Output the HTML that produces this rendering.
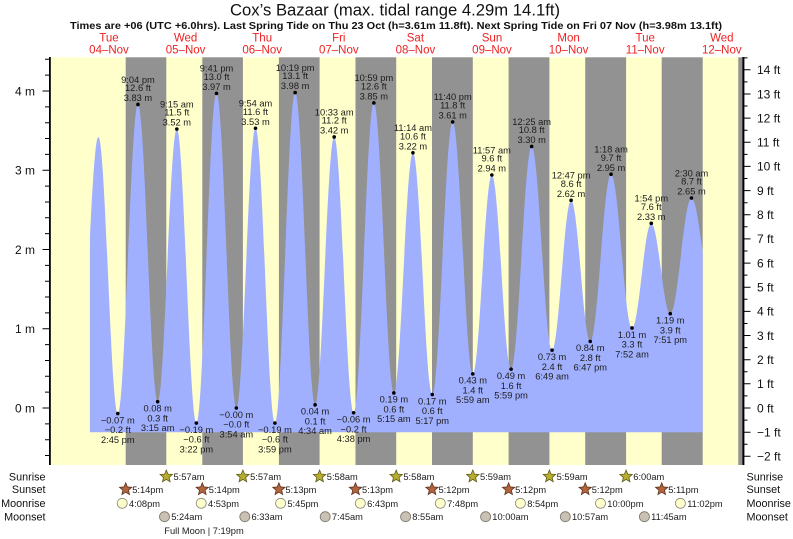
<!DOCTYPE html>
<html><head><meta charset="utf-8"><style>
html,body{margin:0;padding:0;background:#fff;}
svg{display:block;font-family:"Liberation Sans",Arial,sans-serif;}
</style></head><body>
<svg width="793" height="539" viewBox="0 0 793 539" xmlns="http://www.w3.org/2000/svg">
<defs>
<clipPath id="cp"><rect x="89.9" y="0" width="612.8" height="539"/></clipPath>
<path id="st" d="M0,-6.5 L1.70,-2.35 L6.18,-2.01 L2.76,0.90 L3.82,5.26 L0,2.9 L-3.82,5.26 L-2.76,0.90 L-6.18,-2.01 L-1.70,-2.35 Z"/>
</defs>
<rect width="793" height="539" fill="#fff"/>
<!-- title -->
<text x="395" y="15.5" font-size="16.6" text-anchor="middle" fill="#111" textLength="330" lengthAdjust="spacingAndGlyphs">Cox’s Bazaar (max. tidal range 4.29m 14.1ft)</text>
<text x="396" y="29" font-size="10.5" font-weight="bold" text-anchor="middle" fill="#111" textLength="652" lengthAdjust="spacingAndGlyphs">Times are +06 (UTC +6.0hrs). Last Spring Tide on Thu 23 Oct (h=3.61m 11.8ft). Next Spring Tide on Fri 07 Nov (h=3.98m 13.1ft)</text>
<!-- day labels -->
<g font-size="11.5" fill="#ee2222" text-anchor="middle">
<text x="109" y="41.5">Tue</text><text x="109" y="53.5">04–Nov</text>
<text x="185.6" y="41.5">Wed</text><text x="185.6" y="53.5">05–Nov</text>
<text x="262.2" y="41.5">Thu</text><text x="262.2" y="53.5">06–Nov</text>
<text x="338.8" y="41.5">Fri</text><text x="338.8" y="53.5">07–Nov</text>
<text x="415.4" y="41.5">Sat</text><text x="415.4" y="53.5">08–Nov</text>
<text x="492" y="41.5">Sun</text><text x="492" y="53.5">09–Nov</text>
<text x="568.6" y="41.5">Mon</text><text x="568.6" y="53.5">10–Nov</text>
<text x="645.2" y="41.5">Tue</text><text x="645.2" y="53.5">11–Nov</text>
<text x="721.8" y="41.5">Wed</text><text x="721.8" y="53.5">12–Nov</text>
</g>
<!-- plot background -->
<rect x="50.5" y="57.3" width="692" height="407.7" fill="#ffffcc"/>
<g fill="#929292">
<rect x="125.7" y="57.3" width="40.6" height="407.7"/>
<rect x="202.3" y="57.3" width="40.6" height="407.7"/>
<rect x="278.9" y="57.3" width="40.7" height="407.7"/>
<rect x="355.5" y="57.3" width="40.7" height="407.7"/>
<rect x="432.0" y="57.3" width="40.8" height="407.7"/>
<rect x="508.6" y="57.3" width="40.8" height="407.7"/>
<rect x="585.2" y="57.3" width="40.9" height="407.7"/>
<rect x="661.7" y="57.3" width="41.0" height="407.7"/>
<rect x="738.3" y="57.3" width="4.2" height="407.7"/>
</g>
<!-- tide fill -->
<path clip-path="url(#cp)" fill="#a0b0fe" d="M78.42,404.04 C85.68,404.04 91.11,136.96 98.37,136.96 C105.44,136.96 110.71,413.55 117.78,413.55 C125.12,413.55 130.61,104.47 137.95,104.47 C145.13,104.47 150.49,401.66 157.67,401.66 C164.64,401.66 169.85,129.04 176.82,129.04 C183.93,129.04 189.25,423.06 196.36,423.06 C203.69,423.06 209.17,93.38 216.50,93.38 C223.73,93.38 229.12,408 236.35,408 C243.32,408 248.53,128.25 255.50,128.25 C262.56,128.25 267.84,423.06 274.90,423.06 C282.27,423.06 287.77,92.58 295.14,92.58 C302.40,92.58 307.83,404.83 315.09,404.83 C322.04,404.83 327.23,136.96 334.18,136.96 C341.24,136.96 346.52,412.76 353.58,412.76 C360.96,412.76 366.47,102.89 373.85,102.89 C381.13,102.89 386.58,392.94 393.86,392.94 C400.81,392.94 405.99,152.81 412.94,152.81 C419.97,152.81 425.23,394.53 432.26,394.53 C439.68,394.53 445.23,121.91 452.65,121.91 C459.98,121.91 465.46,373.92 472.79,373.92 C479.73,373.92 484.91,175.0 491.85,175.0 C498.85,175.0 504.09,369.17 511.09,369.17 C518.57,369.17 524.17,146.47 531.65,146.47 C539.08,146.47 544.64,350.15 552.07,350.15 C559.00,350.15 564.17,200.36 571.10,200.36 C578.07,200.36 583.28,341.43 590.25,341.43 C597.82,341.43 603.48,174.21 611.05,174.21 C618.68,174.21 624.39,327.96 632.02,327.96 C639.03,327.96 644.26,223.35 651.27,223.35 C658.18,223.35 663.35,313.69 670.26,313.69 C677.99,313.69 683.76,197.99 691.49,197.99 C699.04,197.99 704.68,293.09 712.23,293.09 L712.23,432.2 L78.42,432.2 Z"/>
<!-- dots -->
<g fill="#000">
<circle cx="117.78" cy="413.55" r="1.8"/><circle cx="137.95" cy="104.47" r="1.8"/><circle cx="157.67" cy="401.66" r="1.8"/><circle cx="176.82" cy="129.04" r="1.8"/><circle cx="196.36" cy="423.06" r="1.8"/><circle cx="216.50" cy="93.38" r="1.8"/><circle cx="236.35" cy="408" r="1.8"/><circle cx="255.50" cy="128.25" r="1.8"/><circle cx="274.90" cy="423.06" r="1.8"/><circle cx="295.14" cy="92.58" r="1.8"/><circle cx="315.09" cy="404.83" r="1.8"/><circle cx="334.18" cy="136.96" r="1.8"/><circle cx="353.58" cy="412.76" r="1.8"/><circle cx="373.85" cy="102.89" r="1.8"/><circle cx="393.86" cy="392.94" r="1.8"/><circle cx="412.94" cy="152.81" r="1.8"/><circle cx="432.26" cy="394.53" r="1.8"/><circle cx="452.65" cy="121.91" r="1.8"/><circle cx="472.79" cy="373.92" r="1.8"/><circle cx="491.85" cy="175.0" r="1.8"/><circle cx="511.09" cy="369.17" r="1.8"/><circle cx="531.65" cy="146.47" r="1.8"/><circle cx="552.07" cy="350.15" r="1.8"/><circle cx="571.10" cy="200.36" r="1.8"/><circle cx="590.25" cy="341.43" r="1.8"/><circle cx="611.05" cy="174.21" r="1.8"/><circle cx="632.02" cy="327.96" r="1.8"/><circle cx="651.27" cy="223.35" r="1.8"/><circle cx="670.26" cy="313.69" r="1.8"/><circle cx="691.49" cy="197.99" r="1.8"/>
</g>
<!-- high labels -->
<g font-size="9.3" fill="#1c1c1c" text-anchor="middle">
<text x="137.95" y="82.8">9:04 pm</text><text x="137.95" y="91.1">12.6 ft</text><text x="137.95" y="101.1">3.83 m</text>
<text x="176.82" y="107.3">9:15 am</text><text x="176.82" y="115.6">11.5 ft</text><text x="176.82" y="125.6">3.52 m</text>
<text x="216.5" y="71.7">9:41 pm</text><text x="216.5" y="80.0">13.0 ft</text><text x="216.5" y="90.0">3.97 m</text>
<text x="255.5" y="106.6">9:54 am</text><text x="255.5" y="114.9">11.6 ft</text><text x="255.5" y="124.9">3.53 m</text>
<text x="295.14" y="70.9">10:19 pm</text><text x="295.14" y="79.2">13.1 ft</text><text x="295.14" y="89.2">3.98 m</text>
<text x="334.18" y="115.3">10:33 am</text><text x="334.18" y="123.6">11.2 ft</text><text x="334.18" y="133.6">3.42 m</text>
<text x="373.85" y="81.2">10:59 pm</text><text x="373.85" y="89.5">12.6 ft</text><text x="373.85" y="99.5">3.85 m</text>
<text x="412.94" y="131.1">11:14 am</text><text x="412.94" y="139.4">10.6 ft</text><text x="412.94" y="149.4">3.22 m</text>
<text x="452.65" y="100.2">11:40 pm</text><text x="452.65" y="108.5">11.8 ft</text><text x="452.65" y="118.5">3.61 m</text>
<text x="491.85" y="153.3">11:57 am</text><text x="491.85" y="161.6">9.6 ft</text><text x="491.85" y="171.6">2.94 m</text>
<text x="531.65" y="124.8">12:25 am</text><text x="531.65" y="133.1">10.8 ft</text><text x="531.65" y="143.1">3.30 m</text>
<text x="571.1" y="178.7">12:47 pm</text><text x="571.1" y="187.0">8.6 ft</text><text x="571.1" y="197.0">2.62 m</text>
<text x="611.05" y="152.5">1:18 am</text><text x="611.05" y="160.8">9.7 ft</text><text x="611.05" y="170.8">2.95 m</text>
<text x="651.27" y="201.7">1:54 pm</text><text x="651.27" y="210.0">7.6 ft</text><text x="651.27" y="220.0">2.33 m</text>
<text x="691.49" y="176.3">2:30 am</text><text x="691.49" y="184.6">8.7 ft</text><text x="691.49" y="194.6">2.65 m</text>
<!-- low labels -->
<text x="117.78" y="423.4">−0.07 m</text><text x="117.78" y="433.2">−0.2 ft</text><text x="117.78" y="442.9">2:45 pm</text>
<text x="157.67" y="411.5">0.08 m</text><text x="157.67" y="421.3">0.3 ft</text><text x="157.67" y="431.0">3:15 am</text>
<text x="196.36" y="432.9">−0.19 m</text><text x="196.36" y="442.7">−0.6 ft</text><text x="196.36" y="452.4">3:22 pm</text>
<text x="236.35" y="417.8">−0.00 m</text><text x="236.35" y="427.6">−0.0 ft</text><text x="236.35" y="437.3">3:54 am</text>
<text x="274.9" y="432.9">−0.19 m</text><text x="274.9" y="442.7">−0.6 ft</text><text x="274.9" y="452.4">3:59 pm</text>
<text x="315.09" y="414.6">0.04 m</text><text x="315.09" y="424.4">0.1 ft</text><text x="315.09" y="434.1">4:34 am</text>
<text x="353.58" y="422.6">−0.06 m</text><text x="353.58" y="432.4">−0.2 ft</text><text x="353.58" y="442.1">4:38 pm</text>
<text x="393.86" y="402.7">0.19 m</text><text x="393.86" y="412.5">0.6 ft</text><text x="393.86" y="422.2">5:15 am</text>
<text x="432.26" y="404.3">0.17 m</text><text x="432.26" y="414.1">0.6 ft</text><text x="432.26" y="423.8">5:17 pm</text>
<text x="472.79" y="383.7">0.43 m</text><text x="472.79" y="393.5">1.4 ft</text><text x="472.79" y="403.2">5:59 am</text>
<text x="511.09" y="379.0">0.49 m</text><text x="511.09" y="388.8">1.6 ft</text><text x="511.09" y="398.5">5:59 pm</text>
<text x="552.07" y="360.0">0.73 m</text><text x="552.07" y="369.8">2.4 ft</text><text x="552.07" y="379.5">6:49 am</text>
<text x="590.25" y="351.2">0.84 m</text><text x="590.25" y="361.0">2.8 ft</text><text x="590.25" y="370.7">6:47 pm</text>
<text x="632.02" y="337.8">1.01 m</text><text x="632.02" y="347.6">3.3 ft</text><text x="632.02" y="357.3">7:52 am</text>
<text x="670.26" y="323.5">1.19 m</text><text x="670.26" y="333.3">3.9 ft</text><text x="670.26" y="343.0">7:51 pm</text>
</g>
<!-- axes -->
<rect x="49" y="57" width="1.8" height="408" fill="#000"/>
<rect x="742.4" y="57" width="2" height="408" fill="#000"/>
<path stroke="#000" stroke-width="1" fill="none" d="M42.5,408H49M42.5,328.75H49M42.5,249.5H49M42.5,170.25H49M42.5,91H49
M45,455.55H49M45,439.7H49M45,423.85H49M45,392.15H49M45,376.3H49M45,360.45H49M45,344.6H49M45,312.9H49M45,297.05H49M45,281.2H49M45,265.35H49M45,233.65H49M45,217.8H49M45,201.95H49M45,186.1H49M45,154.4H49M45,138.55H49M45,122.7H49M45,106.85H49M45,75.15H49M45,59.3H49
M744,456.3H750.5M744,432.2H750.5M744,408H750.5M744,383.8H750.5M744,359.7H750.5M744,335.5H750.5M744,311.4H750.5M744,287.2H750.5M744,263.1H750.5M744,238.9H750.5M744,214.8H750.5M744,190.6H750.5M744,166.4H750.5M744,142.3H750.5M744,118.1H750.5M744,94H750.5M744,69.8H750.5
M744,444.2H747.5M744,420.1H747.5M744,395.9H747.5M744,371.8H747.5M744,347.6H747.5M744,323.5H747.5M744,299.3H747.5M744,275.1H747.5M744,251H747.5M744,226.8H747.5M744,202.7H747.5M744,178.5H747.5M744,154.4H747.5M744,130.2H747.5M744,106H747.5M744,81.9H747.5M744,57.9H747.5"/>
<g font-size="12" fill="#111" text-anchor="end">
<text x="35" y="95.3">4 m</text><text x="35" y="174.5">3 m</text><text x="35" y="253.8">2 m</text><text x="35" y="333">1 m</text><text x="35" y="412.3">0 m</text>
</g>
<g font-size="12" fill="#111">
<text x="757" y="74.1">14 ft</text><text x="757" y="98.3">13 ft</text><text x="757" y="122.4">12 ft</text><text x="757" y="146.6">11 ft</text><text x="757" y="170.7">10 ft</text><text x="757" y="194.9">9 ft</text><text x="757" y="219.1">8 ft</text><text x="757" y="243.2">7 ft</text><text x="757" y="267.4">6 ft</text><text x="757" y="291.5">5 ft</text><text x="757" y="315.7">4 ft</text><text x="757" y="339.8">3 ft</text><text x="757" y="364">2 ft</text><text x="757" y="388.1">1 ft</text><text x="757" y="412.3">0 ft</text><text x="757" y="436.5">−1 ft</text><text x="757" y="460.6">−2 ft</text>
</g>
<!-- sun / moon rows -->
<g font-size="10.8" fill="#111">
<text x="45.5" y="480.4" text-anchor="end">Sunrise</text><text x="45.5" y="493.2" text-anchor="end">Sunset</text><text x="45.5" y="507.2" text-anchor="end">Moonrise</text><text x="45.5" y="520.6" text-anchor="end">Moonset</text>
<text x="746.5" y="480.4">Sunrise</text><text x="746.5" y="493.2">Sunset</text><text x="746.5" y="507.2">Moonrise</text><text x="746.5" y="520.6">Moonset</text>
</g>
<g fill="#b5ae30" stroke="#625c1c" stroke-width="0.8">
<use href="#st" x="166.3" y="476.5"/><use href="#st" x="242.9" y="476.5"/><use href="#st" x="319.6" y="476.5"/><use href="#st" x="396.2" y="476.5"/><use href="#st" x="472.8" y="476.5"/><use href="#st" x="549.4" y="476.5"/><use href="#st" x="626.1" y="476.5"/>
</g>
<g fill="#b2643e" stroke="#5e3420" stroke-width="0.8">
<use href="#st" x="125.7" y="489.3"/><use href="#st" x="202.3" y="489.3"/><use href="#st" x="278.9" y="489.3"/><use href="#st" x="355.5" y="489.3"/><use href="#st" x="432" y="489.3"/><use href="#st" x="508.6" y="489.3"/><use href="#st" x="585.2" y="489.3"/><use href="#st" x="661.7" y="489.3"/>
</g>
<g fill="#ffffcc" stroke="#8a8a7a" stroke-width="0.8">
<circle cx="122.2" cy="503.3" r="5"/><circle cx="201.2" cy="503.3" r="5"/><circle cx="280.6" cy="503.3" r="5"/><circle cx="360.3" cy="503.3" r="5"/><circle cx="440.3" cy="503.3" r="5"/><circle cx="520.4" cy="503.3" r="5"/><circle cx="600.5" cy="503.3" r="5"/><circle cx="680.4" cy="503.3" r="5"/>
</g>
<g fill="#c9c1b1" stroke="#7a766e" stroke-width="0.8">
<circle cx="164.5" cy="516.7" r="5"/><circle cx="244.8" cy="516.7" r="5"/><circle cx="325.2" cy="516.7" r="5"/><circle cx="405.6" cy="516.7" r="5"/><circle cx="485.6" cy="516.7" r="5"/><circle cx="565.3" cy="516.7" r="5"/><circle cx="644.4" cy="516.7" r="5"/>
</g>
<g font-size="9.3" fill="#1c1c1c">
<text x="173.5" y="480">5:57am</text><text x="250.1" y="480">5:57am</text><text x="326.8" y="480">5:58am</text><text x="403.4" y="480">5:58am</text><text x="480" y="480">5:59am</text><text x="556.6" y="480">5:59am</text><text x="633.3" y="480">6:00am</text>
<text x="132.2" y="492.8">5:14pm</text><text x="208.8" y="492.8">5:14pm</text><text x="285.4" y="492.8">5:13pm</text><text x="362" y="492.8">5:13pm</text><text x="438.5" y="492.8">5:12pm</text><text x="515.1" y="492.8">5:12pm</text><text x="591.7" y="492.8">5:12pm</text><text x="668.2" y="492.8">5:11pm</text>
<text x="129" y="506.8">4:08pm</text><text x="208" y="506.8">4:53pm</text><text x="287.4" y="506.8">5:45pm</text><text x="367.1" y="506.8">6:43pm</text><text x="447.1" y="506.8">7:48pm</text><text x="527.2" y="506.8">8:54pm</text><text x="607.3" y="506.8">10:00pm</text><text x="687.2" y="506.8">11:02pm</text>
<text x="171.2" y="520.2">5:24am</text><text x="251.5" y="520.2">6:33am</text><text x="331.9" y="520.2">7:45am</text><text x="412.3" y="520.2">8:55am</text><text x="492.3" y="520.2">10:00am</text><text x="572" y="520.2">10:57am</text><text x="651.1" y="520.2">11:45am</text>
<text x="164.3" y="534">Full Moon | 7:19pm</text>
</g>
</svg>
</body></html>
